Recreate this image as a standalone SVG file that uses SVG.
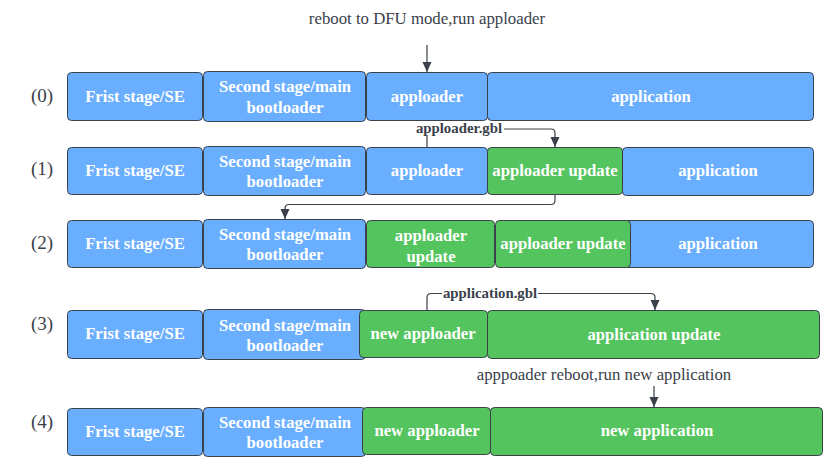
<svg xmlns="http://www.w3.org/2000/svg" width="840" height="471" viewBox="0 0 840 471">
<defs>
<marker id="ah" viewBox="0 0 10 10" refX="10" refY="5" markerWidth="10" markerHeight="10" markerUnits="userSpaceOnUse" orient="auto">
<path d="M0,0.5 L10,5 L0,9.5 Z" fill="#3a414a"/>
</marker>
<style>
.b rect{fill:#6aaeff;stroke:#3a414a;stroke-width:1}
.g rect{fill:#54c45e;stroke:#3a414a;stroke-width:1}
.n text{font-family:"Liberation Serif","Times New Roman",serif;font-weight:bold;font-size:16.7px;fill:#ffffff;text-anchor:middle}
.lbl{font-family:"Liberation Serif",serif;font-size:19px;fill:#3a414a;text-anchor:middle}
.note{font-family:"Liberation Serif",serif;font-size:16.8px;fill:#3a414a;text-anchor:middle}
.cl{font-family:"Liberation Serif",serif;font-size:14.8px;font-weight:bold;fill:#3a414a;text-anchor:middle}
.c path{fill:none;stroke:#3a414a;stroke-width:1.2}
</style>
</defs>
<rect width="840" height="471" fill="#ffffff"/>

<text class="note" x="427" y="24">reboot to DFU mode,run apploader</text>
<text class="note" x="604" y="380">apppoader reboot,run new application</text>

<text class="lbl" x="42" y="102">(0)</text>
<text class="lbl" x="42" y="175">(1)</text>
<text class="lbl" x="42" y="249">(2)</text>
<text class="lbl" x="42" y="330">(3)</text>
<text class="lbl" x="42" y="428">(4)</text>

<!-- Row 0 -->
<g id="r0-first" class="n b"><rect x="67.5" y="72.5" width="135" height="48" rx="4"/><text x="135" y="102">Frist stage/SE</text></g>
<g id="r0-second" class="n b"><rect x="203.5" y="71.5" width="162" height="50" rx="4"/><text x="285" y="92">Second stage/main</text><text x="285" y="113">bootloader</text></g>
<g id="r0-apploader" class="n b"><rect x="366.5" y="72.5" width="121" height="48" rx="4"/><text x="427" y="102">apploader</text></g>
<g id="r0-application" class="n b"><rect x="487.5" y="72.5" width="326" height="48" rx="4"/><text x="651" y="102">application</text></g>

<!-- Row 1 -->
<g id="r1-first" class="n b"><rect x="67.5" y="147.5" width="135" height="47" rx="4"/><text x="135" y="176">Frist stage/SE</text></g>
<g id="r1-second" class="n b"><rect x="203.5" y="146.5" width="162" height="49" rx="4"/><text x="285" y="167">Second stage/main</text><text x="285" y="187">bootloader</text></g>
<g id="r1-apploader" class="n b"><rect x="366.5" y="147.5" width="121" height="47" rx="4"/><text x="427" y="176">apploader</text></g>
<g id="r1-application" class="n b"><rect x="622.5" y="147.5" width="191" height="48" rx="4"/><text x="718" y="176">application</text></g>
<g id="r1-update" class="n g"><rect x="487.5" y="147.5" width="135" height="47" rx="4"/><text x="555" y="176">apploader update</text></g>

<!-- Row 2 -->
<g id="r2-first" class="n b"><rect x="67.5" y="220.5" width="135" height="47" rx="4"/><text x="135" y="249">Frist stage/SE</text></g>
<g id="r2-second" class="n b"><rect x="203.5" y="219.5" width="162" height="49" rx="4"/><text x="285" y="240">Second stage/main</text><text x="285" y="260">bootloader</text></g>
<g id="r2-application" class="n b"><rect x="622.5" y="220.5" width="191" height="47" rx="4"/><text x="718" y="249">application</text></g>
<g id="r2-update1" class="n g"><rect x="366.5" y="220.5" width="128" height="47" rx="4"/><text x="431" y="241">apploader</text><text x="431" y="262">update</text></g>
<g id="r2-update2" class="n g"><rect x="495.5" y="220.5" width="135" height="47" rx="4"/><text x="563" y="249">apploader update</text></g>

<!-- Row 3 -->
<g id="r3-first" class="n b"><rect x="67.5" y="310.5" width="135" height="48" rx="4"/><text x="135" y="339">Frist stage/SE</text></g>
<g id="r3-second" class="n b"><rect x="203.5" y="309.5" width="162" height="50" rx="4"/><text x="285" y="331">Second stage/main</text><text x="285" y="351">bootloader</text></g>
<g id="r3-newapploader" class="n g"><rect x="359.5" y="310.5" width="128" height="47" rx="4"/><text x="423" y="339">new apploader</text></g>
<g id="r3-appupdate" class="n g"><rect x="487.5" y="310.5" width="332" height="48" rx="4"/><text x="654" y="340">application update</text></g>

<!-- Row 4 -->
<g id="r4-first" class="n b"><rect x="67.5" y="408.5" width="135" height="47" rx="4"/><text x="135" y="437">Frist stage/SE</text></g>
<g id="r4-second" class="n b"><rect x="203.5" y="407.5" width="162" height="49" rx="4"/><text x="285" y="428">Second stage/main</text><text x="285" y="448">bootloader</text></g>
<g id="r4-newapploader" class="n g"><rect x="362.5" y="407.5" width="128" height="47" rx="4"/><text x="427" y="436">new apploader</text></g>
<g id="r4-newapp" class="n g"><rect x="490.5" y="407.5" width="332" height="48" rx="4"/><text x="657" y="436">new application</text></g>

<!-- Connectors -->
<g id="connectors" class="c">
<path d="M427,45 L427,72" marker-end="url(#ah)"/>
<path d="M427,147 L427,129 L551,129 Q555,129 555,133 L555,147" marker-end="url(#ah)"/>
<path d="M555,195 L555,200 Q555,204.5 551,204.5 L289,204.5 Q285,204.5 285,208.5 L285,219" marker-end="url(#ah)"/>
<path d="M427,310 L427,298 Q427,293.5 431,293.5 L651,293.5 Q655,293.5 655,297.5 L655,310" marker-end="url(#ah)"/>
<path d="M654,386 L654,407" marker-end="url(#ah)"/>
</g>
<rect x="414" y="121" width="90" height="14" fill="#ffffff"/>
<text class="cl" x="459" y="133">apploader.gbl</text>
<rect x="442" y="286" width="96" height="14" fill="#ffffff"/>
<text class="cl" x="490" y="298">application.gbl</text>
</svg>
